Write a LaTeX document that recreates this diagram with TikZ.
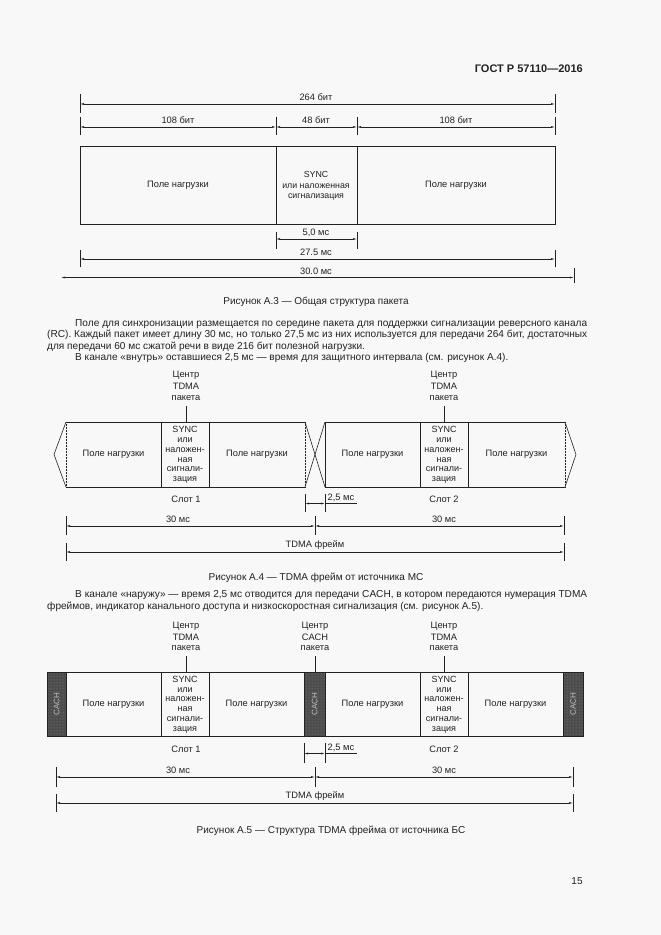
\documentclass[tikz,border=0pt]{standalone}
\usepackage{fontspec}
\setmainfont{Liberation Sans}
\usetikzlibrary{arrows.meta,patterns}
\definecolor{ink}{HTML}{222222}
\definecolor{paper}{HTML}{F8F8F8}
\definecolor{cachfill}{HTML}{4C4C4C}
\begin{document}
\begin{tikzpicture}[x=1pt,y=-1pt,
  every node/.style={inner sep=0pt, text=ink},
  boxline/.style={draw=ink, line width=0.9pt},
  thinline/.style={draw=ink, line width=0.6pt},
  dotline/.style={draw=ink, line width=0.5pt, densely dotted},
  tickline/.style={draw=ink, line width=0.6pt},
  dimline/.style={draw=ink, line width=0.45pt, {Latex[length=4pt,width=1.8pt]}-{Latex[length=4pt,width=1.8pt]}},
  lbl/.style={font=\fontsize{9.3}{10}\selectfont},
  cell/.style={font=\fontsize{9}{9.8}\selectfont, align=center},
  body/.style={font=\fontsize{10.1}{11}\selectfont, anchor=base west},
  capt/.style={font=\fontsize{10}{11}\selectfont, anchor=base},
  cachtxt/.style={font=\fontsize{8}{9}\selectfont, text=white!75!black}]
\fill[paper] (0,0) rectangle (661,935);
\useasboundingbox (0,0) rectangle (661,935);

% header
\node[anchor=base east, font=\bfseries\fontsize{11}{12}\selectfont] (hdr) at (583,72) {ГОСТ Р 57110—2016};

% ================= Figure A.3 =================
\draw[boxline] (80,146) rectangle (555,224);
\draw[boxline] (276,146) -- (276,224);
\draw[boxline] (357,146) -- (357,224);
\node[lbl] (p3a) at (178,185) {Поле нагрузки};
\node[lbl] (p3b) at (456,185) {Поле нагрузки};
\node[cell, font=\fontsize{8.8}{10.3}\selectfont] (s3) at (316,186) {SYNC\\или наложенная\\сигнализация};

% 264 bit
\draw[tickline] (80,94) -- (80,113);
\draw[tickline] (555,94) -- (555,113);
\coordinate (d264l) at (80,104); \coordinate (d264r) at (555,104);
\draw[dimline] (d264l) -- (d264r);
\node[lbl] (t264) at (316,97) {264 бит};
% 108/48/108
\foreach \x in {80,276,357,555} \draw[tickline] (\x,117) -- (\x,135);
\coordinate (b0) at (80,127); \coordinate (b1) at (276,127);
\coordinate (b2) at (357,127); \coordinate (b3) at (555,127);
\draw[dimline] (b0) -- (b1);
\draw[dimline] (b1) -- (b2);
\draw[dimline] (b2) -- (b3);
\node[lbl] (t108a) at (178,120.5) {108 бит};
\node[lbl] (t48) at (316,120.5) {48 бит};
\node[lbl] (t108b) at (456,120.5) {108 бит};
% 5,0 ms
\draw[tickline] (276,232) -- (276,249);
\draw[tickline] (357,232) -- (357,249);
\coordinate (c50l) at (276,239); \coordinate (c50r) at (357,239);
\draw[dimline] (c50l) -- (c50r);
\node[lbl] (t50) at (316,233) {5,0 мс};
% 27.5 ms
\draw[tickline] (80,250) -- (80,267);
\draw[tickline] (555,250) -- (555,267);
\coordinate (c275l) at (80,259); \coordinate (c275r) at (555,259);
\draw[dimline] (c275l) -- (c275r);
\node[lbl] (t275) at (316,252.5) {27.5 мс};
% 30.0 ms
\draw[tickline] (574,268) -- (574,283);
\coordinate (c30l) at (61,277.5); \coordinate (c30r) at (574,277.5);
\draw[dimline] (c30l) -- (c30r);
\node[lbl] (t300) at (316,271.5) {30.0 мс};

\node[capt] (cap3) at (316,304) {Рисунок А.3 — Общая структура пакета};

% paragraph 1
\node[body] (l1) at (75,326) {\makebox[512pt][s]{Поле для синхронизации размещается по середине пакета для поддержки сигнализации реверсного канала}};
\node[body] (l2) at (47,337.5) {\makebox[540pt][s]{(RC). Каждый пакет имеет длину 30 мс, но только 27,5 мс из них используется для передачи 264 бит, достаточных}};
\node[body] (l3) at (47,349) {для передачи 60 мс сжатой речи в виде 216 бит полезной нагрузки.};
\node[body] (l4) at (75,360.5) {В канале «внутрь» оставшиеся 2,5 мс — время для защитного интервала (см. рисунок А.4).};

% ================= Figure A.4 =================
\foreach \cx/\nm in {186/ca, 444/cb} {
  \node[lbl] (\nm1) at (\cx,375) {Центр};
  \node[lbl] (\nm2) at (\cx,386.5) {TDMA};
  \node[lbl] (\nm3) at (\cx,398) {пакета};
  \draw[thinline] (\cx,406) -- (\cx,422);
}
% slot 1
\draw[boxline] (66,422) -- (305,422);
\draw[boxline] (66,487) -- (305,487);
\draw[boxline] (161,422) -- (161,487);
\draw[boxline] (209,422) -- (209,487);
\draw[dotline] (66,422) -- (66,487);
\draw[dotline] (305,422) -- (305,487);
\draw[thinline] (66,422) -- (54,454.5) -- (66,487);
% slot 2
\draw[boxline] (325,422) -- (565,422);
\draw[boxline] (325,487) -- (565,487);
\draw[boxline] (325,422) -- (325,487);
\draw[boxline] (420,422) -- (420,487);
\draw[boxline] (468,422) -- (468,487);
\draw[dotline] (565,422) -- (565,487);
\draw[thinline] (565,422) -- (576,454.5) -- (565,487);
% cross
\draw[thinline] (305,422) -- (325,487);
\draw[thinline] (305,487) -- (325,422);
\node[lbl] (q1) at (113.5,454.5) {Поле нагрузки};
\node[lbl] (q2) at (257,454.5) {Поле нагрузки};
\node[lbl] (q3) at (372.5,454.5) {Поле нагрузки};
\node[lbl] (q4) at (516.5,454.5) {Поле нагрузки};
\node[cell] (qs1) at (185,455) {SYNC\\или\\наложен-\\ная\\сигнали-\\зация};
\node[cell] (qs2) at (444,455) {SYNC\\или\\наложен-\\ная\\сигнали-\\зация};
\node[lbl] (sl1) at (186,499) {Слот 1};
\node[lbl] (sl2) at (444,499) {Слот 2};
% 2,5 ms
\draw[tickline] (305,494) -- (305,512);
\draw[tickline] (325,494) -- (325,512);
\coordinate (g1) at (305,503.5); \coordinate (g2) at (325,503.5); \coordinate (g3) at (357,503.5);
\draw[dimline] (g1) -- (g2);
\draw[draw=ink, line width=0.45pt] (g2) -- (g3);
\node[lbl, anchor=south west] (t25a) at (327.5,502) {2,5 мс};
% 30 ms
\foreach \x in {66,315,564} \draw[tickline] (\x,516) -- (\x,535);
\coordinate (h0) at (66,526); \coordinate (h1) at (315,526); \coordinate (h2) at (564,526);
\draw[dimline] (h0) -- (h1);
\draw[dimline] (h1) -- (h2);
\node[lbl] (t30a) at (178,519.5) {30 мс};
\node[lbl] (t30b) at (444,519.5) {30 мс};
% TDMA frame
\draw[tickline] (66,543) -- (66,561);
\draw[tickline] (564,543) -- (564,561);
\coordinate (f0) at (66,552); \coordinate (f1) at (564,552);
\draw[dimline] (f0) -- (f1);
\node[lbl] (tf4) at (315,545) {TDMA фрейм};

\node[capt] (cap4) at (316,580) {Рисунок А.4 — TDMA фрейм от источника МС};

% paragraph 2
\node[body] (m1) at (75,597.5) {\makebox[512pt][s]{В канале «наружу» — время 2,5 мс отводится для передачи CACH, в котором передаются нумерация TDMA}};
\node[body] (m2) at (47,609) {фреймов, индикатор канального доступа и низкоскоростная сигнализация (см. рисунок А.5).};

% ================= Figure A.5 =================
\foreach \cx/\nm/\tx in {186/ea/TDMA, 315/eb/CACH, 444/ec/TDMA} {
  \node[lbl] (\nm1) at (\cx,626.5) {Центр};
  \node[lbl] (\nm2) at (\cx,637.5) {\tx};
  \node[lbl] (\nm3) at (\cx,648.5) {пакета};
  \draw[thinline] (\cx,656) -- (\cx,672);
}
\foreach \xa/\xb in {47/66, 304/325, 563/583} {
  \fill[cachfill] (\xa,672) rectangle (\xb,736);
  \fill[pattern=dots, pattern color=white!55!black] (\xa,672) rectangle (\xb,736);
}
\draw[boxline] (47,672) rectangle (583,736);
\foreach \x in {66,161,209,304,325,420,468,563} \draw[boxline] (\x,672) -- (\x,736);
\node[cachtxt, rotate=90] (k1) at (56.5,704) {CACH};
\node[cachtxt, rotate=90] (k2) at (314.5,704) {CACH};
\node[cachtxt, rotate=90] (k3) at (573,704) {CACH};
\node[lbl] (r1) at (113.5,704) {Поле нагрузки};
\node[lbl] (r2) at (256.5,704) {Поле нагрузки};
\node[lbl] (r3) at (372.5,704) {Поле нагрузки};
\node[lbl] (r4) at (515.5,704) {Поле нагрузки};
\node[cell] (rs1) at (185,704.5) {SYNC\\или\\наложен-\\ная\\сигнали-\\зация};
\node[cell] (rs2) at (444,704.5) {SYNC\\или\\наложен-\\ная\\сигнали-\\зация};
\node[lbl] (u1) at (186,749) {Слот 1};
\node[lbl] (u2) at (444,749) {Слот 2};
% 2,5 ms
\draw[tickline] (304,743) -- (304,763);
\draw[tickline] (325,743) -- (325,763);
\coordinate (v1) at (304,753.5); \coordinate (v2) at (325,753.5); \coordinate (v3) at (357,753.5);
\draw[dimline] (v1) -- (v2);
\draw[draw=ink, line width=0.45pt] (v2) -- (v3);
\node[lbl, anchor=south west] (t25b) at (327.5,752) {2,5 мс};
% 30 ms
\foreach \x in {56,315,573} \draw[tickline] (\x,767) -- (\x,787);
\coordinate (w0) at (56,777); \coordinate (w1) at (315,777); \coordinate (w2) at (573,777);
\draw[dimline] (w0) -- (w1);
\draw[dimline] (w1) -- (w2);
\node[lbl] (t30c) at (178,770.5) {30 мс};
\node[lbl] (t30d) at (444,770.5) {30 мс};
% TDMA frame
\draw[tickline] (56,794) -- (56,812);
\draw[tickline] (573,794) -- (573,812);
\coordinate (z0) at (56,803); \coordinate (z1) at (573,803);
\draw[dimline] (z0) -- (z1);
\node[lbl] (tf5) at (315,796.5) {TDMA фрейм};

\node[capt] (cap5) at (331,833) {Рисунок А.5 — Структура TDMA фрейма от источника БС};

\node[capt] (pg) at (577,884) {15};
\end{tikzpicture}
\end{document}
